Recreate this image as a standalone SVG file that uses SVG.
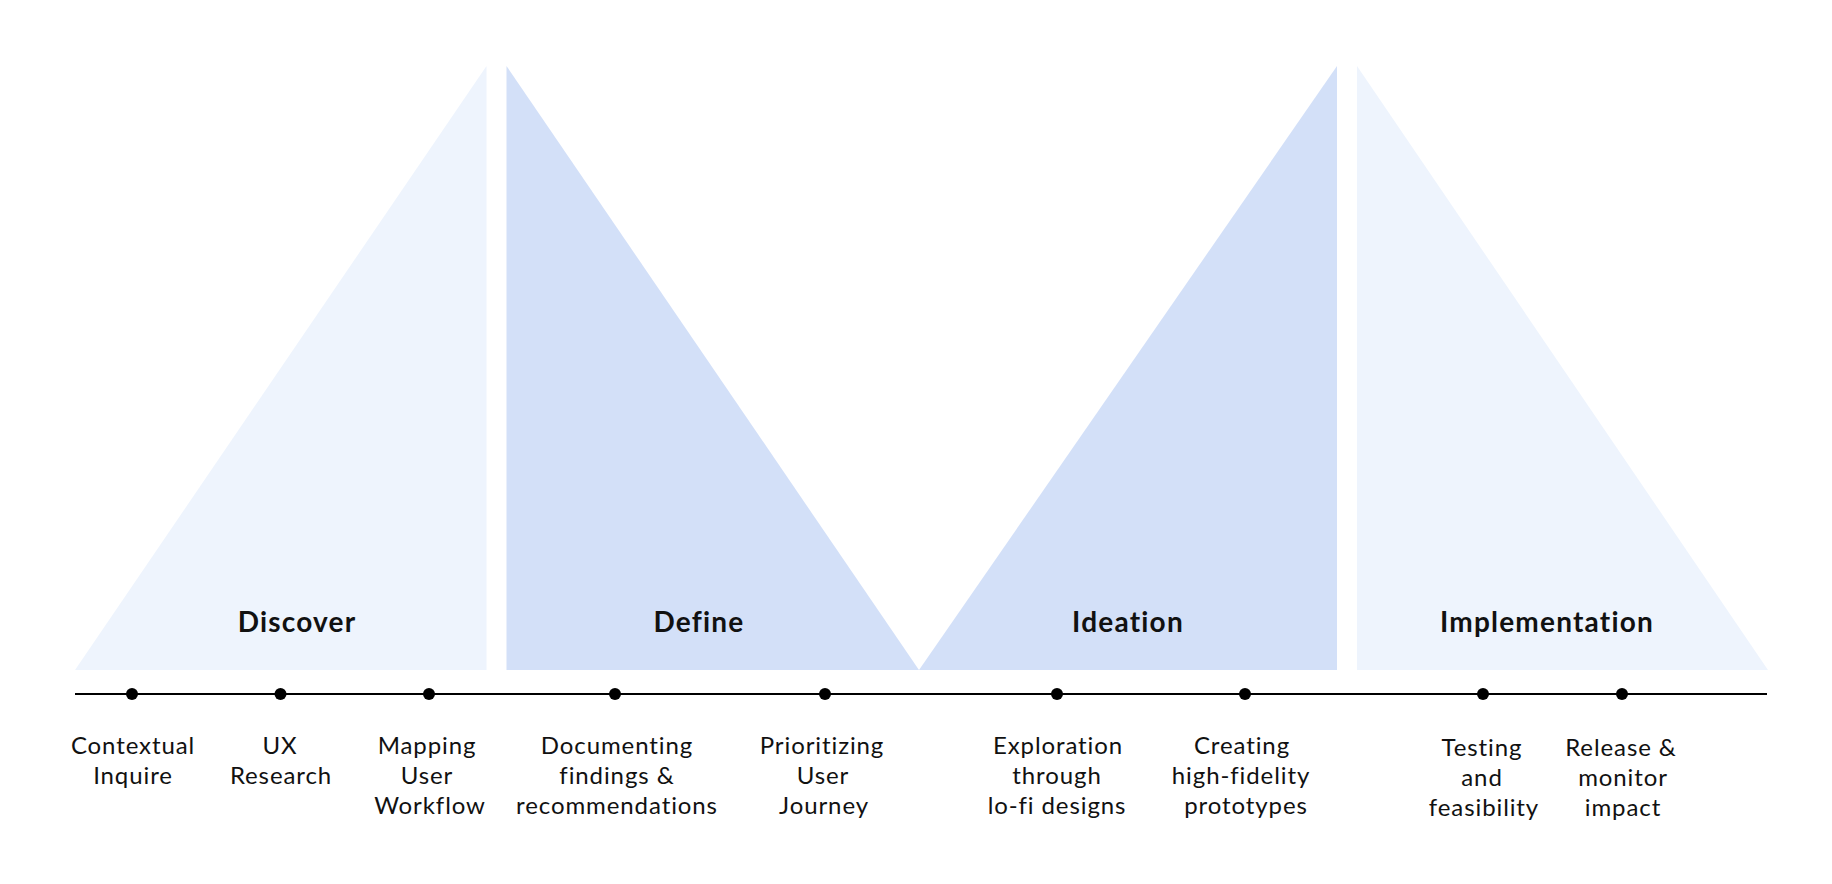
<svg xmlns="http://www.w3.org/2000/svg" width="1832" height="884" viewBox="0 0 1832 884">
<style>
.light{fill:#EEF4FD}
.dark{fill:#D3E0F8}
.title{font-family:Lato,"Open Sans","Liberation Sans",sans-serif;font-size:28px;font-weight:700;fill:#111;text-anchor:middle;letter-spacing:1.2px;font-variant-ligatures:none}
.lbl{font-family:Lato,"Open Sans","Liberation Sans",sans-serif;font-size:24px;fill:#111;text-anchor:middle;letter-spacing:0.9px;font-variant-ligatures:none}
.dot{fill:#000}
</style>
<rect width="1832" height="884" fill="#fff"/>
<g id="discover">
<polygon class="light" points="75,670 486.5,66 486.5,670"/>
<text class="title" x="297" y="632">Discover</text>
</g>
<g id="define">
<polygon class="dark" points="506.5,66 506.5,670 919,670"/>
<text class="title" x="699" y="632">Define</text>
</g>
<g id="ideation">
<polygon class="dark" points="919,670 1337,66 1337,670"/>
<text class="title" x="1128" y="632">Ideation</text>
</g>
<g id="implementation">
<polygon class="light" points="1357,66 1357,670 1768,670"/>
<text class="title" x="1547" y="632">Implementation</text>
</g>
<g id="connectors">
<line x1="75" y1="694" x2="1767" y2="694" stroke="#000" stroke-width="2"/>
</g>
<g id="step1"><circle class="dot" cx="132" cy="694" r="6"/><text class="lbl" x="133" y="754">Contextual<tspan x="133" dy="30">Inquire</tspan></text></g>
<g id="step2"><circle class="dot" cx="280.5" cy="694" r="6"/><text class="lbl" x="280" y="754">UX<tspan x="281" dy="30">Research</tspan></text></g>
<g id="step3"><circle class="dot" cx="429" cy="694" r="6"/><text class="lbl" x="427" y="754">Mapping<tspan x="427" dy="30">User</tspan><tspan x="430" dy="30">Workflow</tspan></text></g>
<g id="step4"><circle class="dot" cx="615" cy="694" r="6"/><text class="lbl" x="617" y="754">Documenting<tspan x="617" dy="30">findings &amp;</tspan><tspan x="617" dy="30">recommendations</tspan></text></g>
<g id="step5"><circle class="dot" cx="825" cy="694" r="6"/><text class="lbl" x="822" y="754">Prioritizing<tspan x="823" dy="30">User</tspan><tspan x="824" dy="30">Journey</tspan></text></g>
<g id="step6"><circle class="dot" cx="1057" cy="694" r="6"/><text class="lbl" x="1058" y="754">Exploration<tspan x="1057" dy="30">through</tspan><tspan x="1057" dy="30">lo-fi designs</tspan></text></g>
<g id="step7"><circle class="dot" cx="1245" cy="694" r="6"/><text class="lbl" x="1242" y="754">Creating<tspan x="1241" dy="30">high-fidelity</tspan><tspan x="1246" dy="30">prototypes</tspan></text></g>
<g id="step8"><circle class="dot" cx="1483" cy="694" r="6"/><text class="lbl" x="1482" y="756">Testing<tspan x="1482" dy="30">and</tspan><tspan x="1484" dy="30">feasibility</tspan></text></g>
<g id="step9"><circle class="dot" cx="1622" cy="694" r="6"/><text class="lbl" x="1621" y="756">Release &amp;<tspan x="1623" dy="30">monitor</tspan><tspan x="1623" dy="30">impact</tspan></text></g>
</svg>
